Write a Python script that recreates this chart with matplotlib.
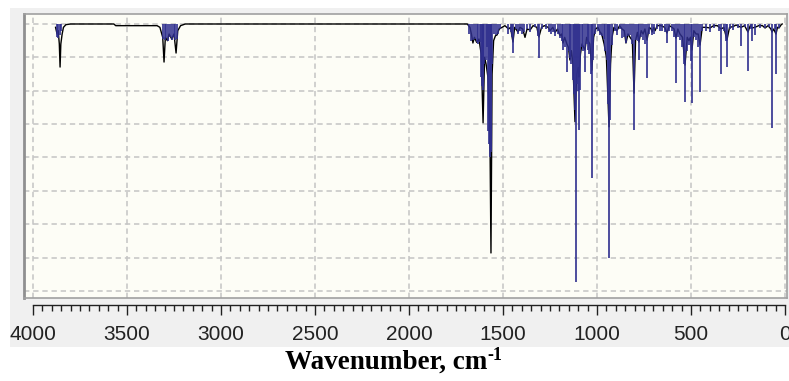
import matplotlib.pyplot as plt
from matplotlib.patches import Rectangle
from matplotlib.ticker import MultipleLocator

# Calculated line positions (cm-1) and intensities, in grid units below the baseline
stick_wn = [
    3874, 3866, 3858, 3850,
    3308, 3300, 3290, 3282, 3270, 3262, 3252, 3244, 3236,
    1680, 1670, 1660, 1650, 1640, 1632, 1624, 1617, 1613, 1609, 1605, 1600, 1592, 1584,
    1578, 1574, 1570, 1566, 1562, 1556, 1546, 1538, 1528, 1515,
    1475, 1460, 1452, 1447, 1432, 1420, 1408, 1399, 1386, 1370, 1356, 1330, 1314, 1309,
    1295, 1270, 1256, 1245,
    1235, 1223, 1210, 1197, 1188, 1181, 1170, 1160, 1150, 1144, 1136, 1128, 1122, 1117,
    1112, 1104, 1100, 1096, 1090, 1080, 1072, 1064, 1054, 1048, 1040, 1032, 1027, 1019, 1010,
    995, 986, 975, 964, 955, 947, 940, 936, 930, 920, 906, 894, 880, 867, 855, 846, 835,
    824, 813, 803, 792, 782, 777, 765, 755, 745,
    734, 722, 707, 695, 680, 665, 652, 640, 628, 615, 601, 590, 580, 568, 559, 546, 538,
    532, 522, 511, 502, 495, 484, 473, 462, 452, 440, 420, 399, 378, 352, 340, 325, 316,
    309, 290, 277, 250, 234, 215, 197, 182, 176, 160, 135, 106, 85, 69, 55, 48, 32,
]
stick_int = [
    0.38, 0.42, 0.33, 0.22,
    0.45, 0.48, 0.42, 0.50, 0.40, 0.48, 0.40, 0.48, 0.45,
    0.30, 0.50, 0.48, 0.45, 0.55, 0.60, 0.55, 1.60, 1.85, 1.90, 1.98, 1.20, 1.08, 0.70,
    3.20, 3.60, 3.98, 3.85, 3.77, 1.20, 0.30, 0.33, 0.30, 0.15,
    0.30, 0.25, 0.40, 0.87, 0.15, 0.30, 0.20, 0.30, 0.25, 0.15, 0.25, 0.10, 0.35, 1.02,
    0.15, 0.15, 0.25, 0.30,
    0.25, 0.35, 0.30, 0.42, 0.50, 0.78, 0.70, 1.44, 0.80, 1.02, 1.20, 1.68, 2.10, 2.57,
    7.72, 1.80, 2.00, 3.17, 1.98, 0.70, 0.80, 1.44, 0.60, 0.78, 0.90, 1.50, 4.61, 1.08, 0.30,
    0.20, 0.33, 0.35, 0.45, 0.80, 1.08, 2.40, 7.00, 2.87, 0.63, 0.20, 0.33, 0.15, 0.42, 0.40, 0.57, 0.35,
    0.33, 0.60, 3.17, 0.48, 0.50, 1.08, 0.40, 0.48, 0.60,
    1.62, 0.30, 0.33, 0.30, 0.15, 0.20, 0.20, 0.25, 0.57, 0.20, 0.20, 0.40, 1.77, 0.40, 0.48, 0.70, 1.20,
    2.34, 0.80, 0.63, 1.10, 2.37, 0.40, 0.48, 0.70, 2.04, 0.20, 0.20, 0.24, 0.12, 0.20, 1.50, 0.20, 0.50,
    1.29, 0.15, 0.18, 0.12, 0.66, 0.10, 1.41, 0.15, 0.51, 0.33, 0.12, 0.12, 0.10, 3.11, 0.15, 1.50, 0.12,
]

# Broadened spectrum (black trace)
env_wn = [
    3880, 3872, 3866, 3860, 3856, 3852, 3845, 3838, 3825, 3800, 3570, 3560, 3340, 3325,
    3310, 3303, 3296, 3285, 3276, 3262, 3250, 3239, 3230, 3215, 3190,
    1690, 1676, 1668, 1660, 1652, 1640, 1628, 1616, 1606, 1598, 1590, 1580, 1570, 1564,
    1558, 1550, 1540, 1532, 1520, 1505, 1490, 1470, 1460, 1447, 1438, 1420, 1410, 1395,
    1383, 1372, 1356, 1340, 1320, 1309, 1295, 1280, 1260, 1250, 1235, 1223, 1210, 1197,
    1188, 1181, 1172, 1160, 1152, 1144, 1136, 1128, 1117, 1108, 1100, 1096, 1088, 1080,
    1064, 1055, 1048, 1038, 1027, 1018, 1008, 995, 984, 975, 962, 950, 936, 928, 920,
    910, 894, 880, 867, 855, 846, 835, 824, 812, 803, 795, 785, 777, 765, 755, 745, 734,
    722, 712, 707, 698, 691, 680, 660, 640, 628, 615, 601, 590, 580, 570, 559, 545, 532,
    520, 511, 503, 495, 485, 473, 462, 452, 440, 420, 399, 380, 360, 340, 325, 309, 295,
    277, 260, 234, 215, 197, 185, 176, 160, 140, 120, 106, 90, 75, 69, 60, 48, 40, 32,
    20, 15,
]
env_int = [
    0.10, 0.30, 0.20, 0.60, 1.29, 0.60, 0.30, 0.10, 0.02, 0.00, 0.00, 0.05, 0.05, 0.10,
    0.40, 1.14, 0.40, 0.50, 0.30, 0.45, 0.30, 0.87, 0.20, 0.05, 0.00,
    0.00, 0.10, 0.30, 0.57, 0.40, 0.55, 0.45, 0.90, 2.96, 1.00, 1.20, 1.60, 3.00, 6.86,
    1.50, 0.50, 0.35, 0.33, 0.15, 0.10, 0.05, 0.15, 0.10, 0.54, 0.10, 0.24, 0.10, 0.15,
    0.40, 0.15, 0.18, 0.05, 0.10, 0.39, 0.10, 0.05, 0.10, 0.20, 0.10, 0.25, 0.15, 0.35,
    0.30, 0.57, 0.40, 0.60, 0.70, 1.08, 0.80, 1.20, 2.93, 1.50, 1.30, 1.59, 0.90, 0.60,
    0.78, 0.40, 0.50, 0.60, 1.38, 0.40, 0.15, 0.10, 0.24, 0.30, 0.60, 1.00, 3.08, 1.20, 0.40,
    0.10, 0.20, 0.05, 0.15, 0.20, 0.57, 0.30, 0.40, 0.50, 2.07, 0.50, 0.25, 0.54, 0.20, 0.30, 0.15, 0.48,
    0.10, 0.15, 0.24, 0.10, 0.20, 0.05, 0.05, 0.10, 0.27, 0.05, 0.10, 0.15, 0.42, 0.15, 0.30, 0.40, 1.23,
    0.40, 0.50, 0.40, 0.78, 0.20, 0.30, 0.30, 0.63, 0.10, 0.10, 0.12, 0.05, 0.05, 0.15, 0.10, 0.48, 0.10,
    0.08, 0.03, 0.10, 0.05, 0.24, 0.05, 0.12, 0.10, 0.05, 0.05, 0.12, 0.05, 0.15, 0.24, 0.15, 0.30, 0.10, 0.12,
    0.02, 0.00,
]

tick_labels = ['4000', '3500', '3000', '2500', '2000', '1500', '1000', '500', '0']
tick_pos = [4000, 3500, 3000, 2500, 2000, 1500, 1000, 500, 0]

W, H = 789, 381
PX_PER_WN = 0.188
PX_PER_GRID = 33.4


def fx(px):
    return px / W


def fy(py):
    return 1 - py / H


fig = plt.figure(figsize=(W / 100, H / 100), dpi=100)
fig.patch.set_facecolor('white')
# grey window panel behind the plot and the scale
fig.patches.append(Rectangle((fx(10), fy(347)), fx(W) - fx(10), fy(8) - fy(347),
                             transform=fig.transFigure, facecolor='#f0f0f0',
                             edgecolor='none', zorder=-10))

xlim = (4000 + 9 / PX_PER_WN, -2 / PX_PER_WN)

ax = fig.add_axes([fx(24), fy(298), fx(787) - fx(24), fy(14) - fy(298)])
ax.set_facecolor('#fdfdf6')
ax.set_xlim(*xlim)
ax.set_ylim(8 + 7 / PX_PER_GRID, -10 / PX_PER_GRID)
ax.set_xticks(tick_pos)
ax.set_yticks(range(9))
ax.tick_params(length=0, labelbottom=False, labelleft=False)
ax.grid(True, linestyle=(0, (3.5, 2.5)), color='#c4c4c4', linewidth=1.1)
for side, sp in ax.spines.items():
    sp.set_color('#a0a0a0')
    sp.set_linewidth(1.2)
ax.spines['left'].set_linewidth(2.0)
ax.spines['left'].set_color('#909090')

ax.plot(env_wn, env_int, color='black', linewidth=1.0, zorder=2)
ax.vlines(stick_wn, 0, stick_int, color='#2f2f8e', linewidth=1.2, zorder=3)

# ruler-style wavenumber scale under the plot
ax2 = fig.add_axes([fx(24), fy(305), fx(787) - fx(24), 0.0001])
ax2.patch.set_alpha(0)
ax2.set_xlim(*xlim)
for side in ['top', 'left', 'right']:
    ax2.spines[side].set_visible(False)
ax2.spines['bottom'].set_bounds(0, 4000)
ax2.spines['bottom'].set_color('#202020')
ax2.spines['bottom'].set_linewidth(1.0)
ax2.set_yticks([])
ax2.set_xticks(tick_pos)
ax2.set_xticklabels(tick_labels, fontsize=15, family='Liberation Sans', color='#222222')
ax2.xaxis.set_minor_locator(MultipleLocator(50))
ax2.tick_params(axis='x', which='major', length=7.2, width=1.0, color='#202020', pad=7)
ax2.tick_params(axis='x', which='minor', length=4.3, width=1.0, color='#202020')

label = fig.text(fx(285), fy(369), 'Wavenumber, cm', fontsize=19.5, fontweight='bold',
                 family='Liberation Serif', va='baseline', ha='left')
ax.annotate('-1', xy=(1.0, 0.58), xycoords=label, fontsize=13, fontweight='bold',
            family='Liberation Serif', ha='left', va='baseline', annotation_clip=False)

fig.savefig('out.png', dpi=100)
